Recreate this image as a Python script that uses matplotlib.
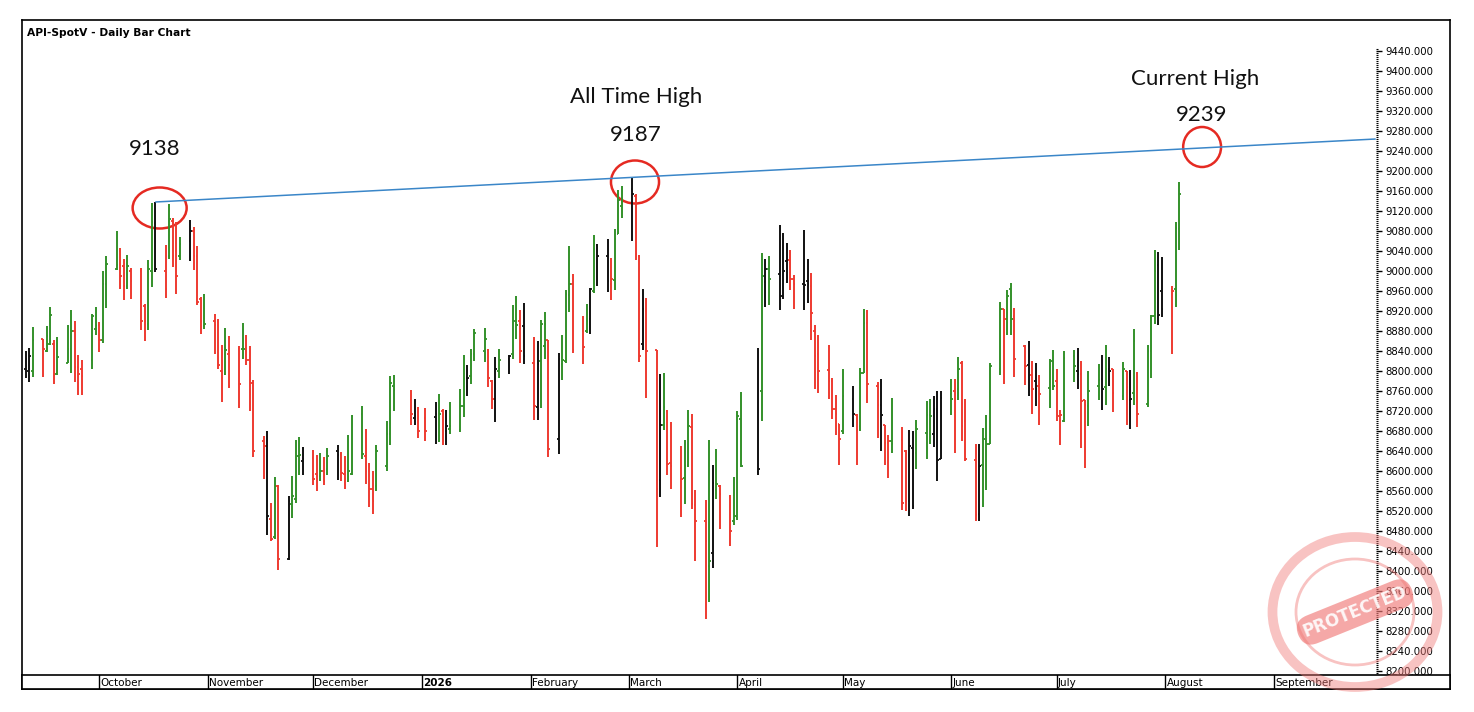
import matplotlib
matplotlib.use('Agg')
import matplotlib.pyplot as plt
import matplotlib.dates as mdates
from matplotlib.patches import Ellipse
from matplotlib.ticker import FixedLocator, FormatStrFormatter
import numpy as np
import pandas as pd

# trading days (weekdays, market holidays removed)
holidays = ['2025-12-25', '2025-12-26', '2026-01-01', '2026-04-03', '2026-04-06']
dates = pd.bdate_range('2025-09-10', '2026-08-05')
dates = dates[~dates.isin(pd.to_datetime(holidays))]

# daily OHLC, one row per month
opens = [
    8805, 8800, 8800, 8864, 8840, 8855, 8855, 8795, 8817, 8845, 8880, 8808, 8805, 8822, 8885,
    8893, 8862, 8975, 9005, 9040, 9010, 8970, 9000, 9000, 8930, 8895, 9000, 9097, 9000, 9030, 9100, 9040, 9030, 9060, 9080, 9030, 8945, 8890,
    8900, 8900, 8800, 8795, 8835, 8845, 8845, 8840, 8822, 8777, 8660, 8650, 8505, 8468, 8570, 8425, 8535, 8545, 8630, 8620,
    8627, 8595, 8590, 8600, 8605, 8640, 8635, 8595, 8580, 8595, 8715, 8630, 8600, 8565, 8570, 8610, 8675, 8770, 8742, 8707, 8707,
    8707, 8708, 8660, 8720, 8680, 8685, 8682, 8730, 8787, 8790, 8835, 8840, 8842, 8780, 8745, 8800, 8825, 8835, 8900, 8900, 8890,
    8817, 8728, 8820, 8850, 8862, 8665, 8815, 8820, 8952, 8975, 8880, 8880, 8905, 8960, 9052, 9030, 8975, 8982, 9075, 9130,
    9165, 9150, 9030, 8855, 8920, 8842, 8583, 8692, 8720, 8617, 8607, 8587, 8612, 8688, 8533, 8500, 8410, 8437, 8563, 8570, 8550, 8500,
    8508, 8705, 8598, 8760, 8979, 9005, 8995, 8950, 9020, 9022, 8985, 8975, 8980, 8970, 8880, 8835, 8802, 8780, 8725, 8695,
    8680, 8745, 8712, 8690, 8797, 8897, 8770, 8732, 8692, 8657, 8660, 8662, 8640, 8540, 8647, 8637, 8677, 8712, 8675, 8725, 8625,
    8755, 8760, 8765, 8817, 8700, 8622, 8515, 8612, 8660, 8655, 8805, 8925, 8905, 8965, 8910, 8850, 8812, 8792, 8780, 8770, 8767, 8820,
    8780, 8710, 8700, 8830, 8800, 8795, 8742, 8730, 8770, 8785, 8768, 8805, 8805, 8750, 8800, 8742, 8757, 8795, 8735, 8840, 8910, 9012, 8960,
    8965, 8965, 9085,
]
highs = [
    8841, 8847, 8889, 8865, 8891, 8929, 8862, 8868, 8893, 8923, 8900, 8833, 8822, 8915, 8929,
    8899, 9000, 9030, 9080, 9047, 9024, 9032, 9007, 9007, 8935, 9022, 9137, 9138, 9052, 9135, 9107, 9099, 9069, 9102, 9089, 9050, 8949, 8955,
    8915, 8904, 8852, 8887, 8870, 8850, 8897, 8872, 8850, 8783, 8670, 8680, 8537, 8589, 8573, 8550, 8590, 8662, 8668, 8648,
    8642, 8632, 8637, 8628, 8646, 8653, 8638, 8630, 8672, 8713, 8730, 8685, 8617, 8600, 8653, 8700, 8790, 8792, 8762, 8745, 8728,
    8727, 8738, 8755, 8725, 8722, 8738, 8765, 8833, 8812, 8844, 8884, 8887, 8845, 8782, 8829, 8845, 8833, 8932, 8951, 8922, 8937,
    8868, 8860, 8902, 8919, 8863, 8837, 8872, 8963, 9050, 8994, 8910, 8934, 8967, 9072, 9054, 9065, 9027, 9085, 9162, 9170,
    9187, 9155, 9032, 8965, 8947, 8843, 8794, 8797, 8722, 8698, 8650, 8662, 8722, 8714, 8563, 8542, 8662, 8612, 8644, 8573, 8553, 8588,
    8720, 8759, 8847, 9037, 9025, 9031, 9092, 9077, 9057, 9042, 8992, 9082, 9024, 8997, 8892, 8873, 8852, 8787, 8752, 8695,
    8805, 8770, 8715, 8806, 8925, 8922, 8779, 8784, 8692, 8673, 8747, 8689, 8642, 8683, 8681, 8702, 8741, 8745, 8750, 8760, 8760,
    8785, 8784, 8829, 8820, 8745, 8655, 8655, 8687, 8713, 8817, 8939, 8925, 8963, 8977, 8927, 8852, 8860, 8821, 8817, 8792, 8825, 8843,
    8805, 8722, 8841, 8843, 8847, 8821, 8743, 8801, 8814, 8833, 8852, 8829, 8805, 8818, 8800, 8803, 8885, 8799, 8852, 8912, 9043, 9039, 9029,
    8970, 9099, 9179,
]
lows = [
    8787, 8779, 8789, 8789, 8838, 8853, 8775, 8792, 8817, 8797, 8779, 8753, 8752, 8805, 8873,
    8839, 8857, 8927, 9002, 8964, 8942, 8965, 8945, 8883, 8860, 8883, 8969, 8999, 8947, 9025, 9009, 8955, 9022, 9020, 9002, 8932, 8875, 8884,
    8835, 8805, 8739, 8793, 8767, 8727, 8825, 8813, 8720, 8628, 8585, 8472, 8460, 8465, 8402, 8423, 8507, 8537, 8593, 8593,
    8573, 8560, 8580, 8573, 8593, 8582, 8580, 8564, 8578, 8593, 8625, 8575, 8528, 8515, 8560, 8600, 8652, 8720, 8692, 8692, 8667,
    8660, 8655, 8658, 8652, 8652, 8675, 8678, 8708, 8751, 8775, 8820, 8818, 8769, 8724, 8698, 8787, 8795, 8824, 8865, 8817, 8815,
    8703, 8702, 8727, 8825, 8629, 8634, 8783, 8817, 8919, 8837, 8815, 8877, 8875, 8957, 8970, 8959, 8942, 8963, 9074, 9107,
    9061, 9023, 8819, 8843, 8747, 8448, 8548, 8683, 8592, 8565, 8508, 8535, 8609, 8525, 8420, 8305, 8338, 8407, 8545, 8485, 8450, 8492,
    8502, 8608, 8593, 8700, 8929, 8932, 8922, 8945, 8977, 8962, 8925, 8922, 8937, 8862, 8764, 8757, 8744, 8705, 8672, 8613,
    8675, 8689, 8613, 8680, 8797, 8737, 8667, 8640, 8613, 8587, 8637, 8522, 8521, 8510, 8525, 8605, 8625, 8654, 8649, 8580, 8625,
    8712, 8637, 8743, 8660, 8620, 8500, 8500, 8528, 8563, 8655, 8792, 8774, 8872, 8872, 8789, 8772, 8750, 8715, 8730, 8692, 8727, 8762,
    8701, 8652, 8699, 8778, 8765, 8647, 8607, 8690, 8743, 8723, 8732, 8770, 8718, 8742, 8692, 8685, 8732, 8688, 8729, 8787, 8895, 8892, 8909,
    8835, 8929, 9043,
]
closes = [
    8825, 8830, 8862, 8845, 8870, 8912, 8795, 8828, 8845, 8880, 8808, 8795, 8790, 8910, 8892,
    8862, 8975, 9015, 9012, 8990, 8970, 9010, 8980, 8900, 8900, 9005, 9098, 9005, 8965, 9105, 9030, 8990, 9055, 9080, 9030, 8938, 8900, 8895,
    8892, 8812, 8787, 8843, 8770, 8775, 8845, 8822, 8777, 8640, 8650, 8510, 8465, 8570, 8425, 8540, 8550, 8625, 8632, 8625,
    8585, 8590, 8600, 8580, 8630, 8632, 8597, 8585, 8600, 8710, 8635, 8600, 8565, 8540, 8640, 8675, 8777, 8762, 8715, 8710, 8680,
    8680, 8715, 8715, 8660, 8690, 8690, 8730, 8785, 8787, 8835, 8877, 8865, 8787, 8745, 8805, 8822, 8830, 8900, 8892, 8840, 8830,
    8730, 8815, 8895, 8895, 8645, 8825, 8822, 8955, 8975, 8842, 8848, 8900, 8965, 9045, 9030, 8980, 8985, 9065, 9142, 9145,
    9155, 9035, 8830, 8925, 8840, 8565, 8693, 8728, 8615, 8610, 8585, 8610, 8690, 8535, 8500, 8460, 8420, 8577, 8575, 8555, 8480, 8510,
    8710, 8610, 8605, 8990, 9005, 8985, 8950, 9000, 9022, 8985, 8975, 8972, 8975, 8917, 8830, 8800, 8780, 8725, 8715, 8665,
    8750, 8715, 8682, 8797, 8897, 8775, 8732, 8712, 8657, 8660, 8655, 8537, 8540, 8650, 8530, 8685, 8712, 8710, 8725, 8622, 8747,
    8745, 8745, 8805, 8690, 8625, 8512, 8610, 8665, 8655, 8810, 8925, 8905, 8950, 8905, 8825, 8810, 8752, 8765, 8765, 8755, 8820, 8770,
    8712, 8712, 8827, 8810, 8795, 8740, 8732, 8760, 8782, 8765, 8805, 8800, 8757, 8805, 8768, 8745, 8860, 8715, 8840, 8910, 9000, 8912, 8925,
    8960, 9086, 9155,
]
# bar colour per day: g = up, r = down, k = neutral
bar_colors = ('kkgrggrgggrrrgg'
              'rgggrrgrrrggkrgrrgkrrrg'
              'rrrgrrgrrrrkrgrkgggk'
              'rrgrgkrrgggrrrggggrkr'
              'rkgrkgggkgggrrkgkggrk'
              'rkggrkgggrrgkgkkrggg'
              'krrkrrkgrrrggrrrgkgrrg'
              'ggkgkgkkkrrkkrrrrrrr'
              'gkrggrrkrrgrrkkgggkkk'
              'grgrrrkggggrggrrkrkrgg'
              'rrggkrrggkgkrgrkgrgggkk'
              'rgg')

# trend line through the two highs, extended to the right edge
trend_dates = ['2025-10-17', '2026-09-30']
trend_values = [9138, 9264]

# annotations
note_texts = ['9138', 'All Time High', '9187', 'Current High', '9239']
note_dates = ['2025-10-16 17:00', '2026-03-03 02:00', '2026-03-03 02:00',
              '2026-08-09 12:00', '2026-08-11 12:00']
note_values = [9244, 9348, 9272, 9384, 9312]
circle_dates = ['2025-10-18 06:00', '2026-03-02 19:00', '2026-08-11 12:00']
circle_values = [9126, 9178, 9248]
circle_days = [15.4, 13.7, 10.8]
circle_heights = [82, 86, 80]

month_starts = pd.date_range('2025-10-01', '2026-09-01', freq='MS')
month_labels = ['October', 'November', 'December', '2026', 'February', 'March',
                'April', 'May', 'June', 'July', 'August', 'September']
price_ticks = list(range(8200, 9441, 40))

palette = {'g': '#33902a', 'r': '#ee3a30', 'k': '#111111'}

W, H = 1474, 712
fig = plt.figure(figsize=(W / 100, H / 100), dpi=100)
fig.patch.set_facecolor('white')

# outer frame
frame = fig.add_axes([22 / W, (H - 689) / H, 1428 / W, 669 / H])
frame.set_xticks([])
frame.set_yticks([])
for s in frame.spines.values():
    s.set_linewidth(1.2)
    s.set_color('black')

ax = fig.add_axes([22 / W, (H - 675) / H, 1354 / W, 655 / H])
ax.patch.set_alpha(0)
for s in ax.spines.values():
    s.set_visible(False)

view_start = mdates.date2num(pd.Timestamp('2025-09-09'))
view_end = mdates.date2num(pd.Timestamp('2026-09-30 02:00'))
ax.set_xlim(view_start, view_end)
ax.set_ylim(8192, 9502)

x = mdates.date2num(dates.to_pydatetime())
cols = [palette[c] for c in bar_colors]
ax.vlines(x, lows, highs, colors=cols, linewidth=1.4)
ax.hlines(opens, x - 0.45, x, colors=cols, linewidth=1.3)
ax.hlines(closes, x, x + 0.45, colors=cols, linewidth=1.3)

tx = mdates.date2num(pd.to_datetime(trend_dates).to_pydatetime())
ax.plot(tx, trend_values, color='#3a86c8', linewidth=1.1, solid_capstyle='butt')

for cd, cv, cw, ch in zip(circle_dates, circle_values, circle_days, circle_heights):
    ax.add_patch(Ellipse((mdates.date2num(pd.Timestamp(cd)), cv), cw, ch,
                         fill=False, edgecolor='#e52a22', linewidth=1.8))

for t, d, v in zip(note_texts, note_dates, note_values):
    ax.text(mdates.date2num(pd.Timestamp(d)), v, t, ha='center', va='center',
            fontsize=16, family=['Lato', 'DejaVu Sans'], color='#111111')

ax.set_xticks([])
ax.yaxis.tick_right()
ax.yaxis.set_major_locator(FixedLocator(price_ticks))
ax.yaxis.set_minor_locator(FixedLocator(np.arange(8196, 9446, 4)))
ax.yaxis.set_major_formatter(FormatStrFormatter('%.3f'))
ax.tick_params(axis='y', which='major', length=4, width=1, pad=3,
               labelsize=7.3, colors='black')
ax.tick_params(axis='y', which='minor', length=1.5, width=0.8)

# month strip at the bottom
strip = fig.add_axes([22 / W, (H - 689) / H, 1428 / W, 14 / H])
strip.set_xlim(view_start, view_start + (view_end - view_start) * 1428 / 1354)
strip.set_ylim(0, 1)
strip.set_xticks([])
strip.set_yticks([])
for s in strip.spines.values():
    s.set_linewidth(1.2)
for m, lab in zip(month_starts, month_labels):
    mx = mdates.date2num(m)
    strip.axvline(mx, color='black', linewidth=1)
    strip.text(mx + 0.4, 0.45, lab, ha='left', va='center', fontsize=7.5,
               fontweight='bold' if lab == '2026' else 'normal')

fig.text(27 / W, 1 - 33 / H, 'API-SpotV - Daily Bar Chart', fontsize=7.7,
         fontweight='bold', va='center', ha='left')

# copy-protection stamp in the lower right corner
stamp_c = (1355 / W, 1 - 612 / H)
fig.add_artist(Ellipse(stamp_c, 165 / W, 150 / H, transform=fig.transFigure,
                       fill=False, edgecolor='#f07a78', linewidth=7, alpha=0.45))
fig.add_artist(Ellipse(stamp_c, 118 / W, 106 / H, transform=fig.transFigure,
                       fill=False, edgecolor='#f07a78', linewidth=2, alpha=0.45))
fig.text(stamp_c[0], stamp_c[1], 'PROTECTED', rotation=22, ha='center', va='center',
         fontsize=12, fontweight='bold', color='white', alpha=0.9,
         bbox=dict(boxstyle='round,pad=0.35,rounding_size=0.9', fc='#f07a78',
                   ec='none', alpha=0.65))

fig.savefig('out.png', dpi=100)
